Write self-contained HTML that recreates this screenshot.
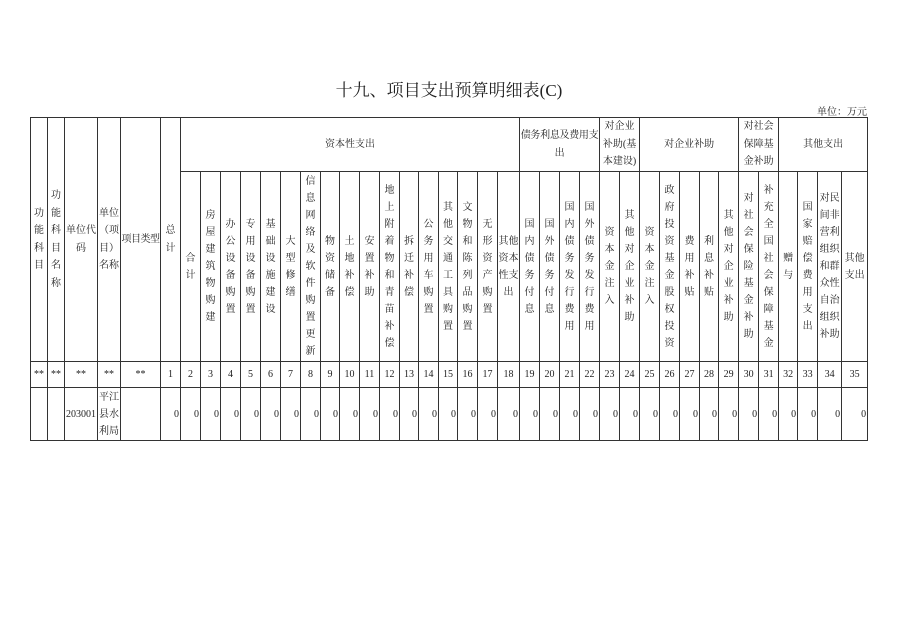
<!DOCTYPE html>
<html><head><meta charset="utf-8"><style>
body{margin:0;width:898px;height:634px;background:#fff;position:relative;font-family:"Liberation Serif","Noto Serif CJK SC",serif;color:#222;}
.title{position:absolute;top:76px;left:0;width:898px;text-align:center;font-size:17px;}
.unit{position:absolute;top:103px;right:31px;font-size:10px;}
table{position:absolute;left:30px;top:117px;border-collapse:collapse;table-layout:fixed;width:837px;font-size:10px;}
td{border:1px solid #333;padding:0;text-align:center;vertical-align:middle;line-height:17px;overflow:hidden;white-space:nowrap;}
tr.h1{height:54px}tr.h2{height:190px}tr.h3{height:26px}tr.h4{height:53px}
tr.h1 td{line-height:17.5px}
td.r{text-align:right;padding-right:1px}
</style></head><body>
<div class="title">十九、项目支出预算明细表(C)</div>
<div class="unit">单位：万元</div>
<table>
<colgroup>
<col style="width:17px"><col style="width:17px"><col style="width:33px"><col style="width:23px"><col style="width:40px"><col style="width:20px">
<col style="width:20px"><col style="width:20px"><col style="width:20px"><col style="width:20px"><col style="width:20px"><col style="width:20px"><col style="width:20px">
<col style="width:19px"><col style="width:20px"><col style="width:20px"><col style="width:20px"><col style="width:19px"><col style="width:20px"><col style="width:19px"><col style="width:20px"><col style="width:20px">
<col style="width:22px"><col style="width:20px"><col style="width:20px"><col style="width:20px"><col style="width:20px">
<col style="width:20px"><col style="width:20px"><col style="width:20px"><col style="width:20px"><col style="width:20px"><col style="width:19px"><col style="width:20px"><col style="width:20px"><col style="width:20px"><col style="width:19px"><col style="width:20px"><col style="width:24px"><col style="width:26px">
</colgroup>
<tr class="h1">
<td rowspan="2">功<br>能<br>科<br>目</td>
<td rowspan="2">功<br>能<br>科<br>目<br>名<br>称</td>
<td rowspan="2">单位代<br>码</td>
<td rowspan="2">单位<br>（项<br>目）<br>名称</td>
<td rowspan="2" style="letter-spacing:-0.5px">项目类型</td>
<td rowspan="2">总<br>计</td>
<td colspan="17">资本性支出</td>
<td colspan="4" style="letter-spacing:-0.3px">债务利息及费用支<br>出</td>
<td colspan="2">对企业<br>补助(基<br>本建设)</td>
<td colspan="5">对企业补助</td>
<td colspan="2">对社会<br>保障基<br>金补助</td>
<td colspan="4">其他支出</td>
</tr>
<tr class="h2">
<td>合<br>计</td>
<td>房<br>屋<br>建<br>筑<br>物<br>购<br>建</td>
<td>办<br>公<br>设<br>备<br>购<br>置</td>
<td>专<br>用<br>设<br>备<br>购<br>置</td>
<td>基<br>础<br>设<br>施<br>建<br>设</td>
<td>大<br>型<br>修<br>缮</td>
<td>信<br>息<br>网<br>络<br>及<br>软<br>件<br>购<br>置<br>更<br>新</td>
<td>物<br>资<br>储<br>备</td>
<td>土<br>地<br>补<br>偿</td>
<td>安<br>置<br>补<br>助</td>
<td>地<br>上<br>附<br>着<br>物<br>和<br>青<br>苗<br>补<br>偿</td>
<td>拆<br>迁<br>补<br>偿</td>
<td>公<br>务<br>用<br>车<br>购<br>置</td>
<td>其<br>他<br>交<br>通<br>工<br>具<br>购<br>置</td>
<td>文<br>物<br>和<br>陈<br>列<br>品<br>购<br>置</td>
<td>无<br>形<br>资<br>产<br>购<br>置</td>
<td>其他<br>资本<br>性支<br>出</td>
<td>国<br>内<br>债<br>务<br>付<br>息</td>
<td>国<br>外<br>债<br>务<br>付<br>息</td>
<td>国<br>内<br>债<br>务<br>发<br>行<br>费<br>用</td>
<td>国<br>外<br>债<br>务<br>发<br>行<br>费<br>用</td>
<td>资<br>本<br>金<br>注<br>入</td>
<td>其<br>他<br>对<br>企<br>业<br>补<br>助</td>
<td>资<br>本<br>金<br>注<br>入</td>
<td>政<br>府<br>投<br>资<br>基<br>金<br>股<br>权<br>投<br>资</td>
<td>费<br>用<br>补<br>贴</td>
<td>利<br>息<br>补<br>贴</td>
<td>其<br>他<br>对<br>企<br>业<br>补<br>助</td>
<td>对<br>社<br>会<br>保<br>险<br>基<br>金<br>补<br>助</td>
<td>补<br>充<br>全<br>国<br>社<br>会<br>保<br>障<br>基<br>金</td>
<td>赠<br>与</td>
<td>国<br>家<br>赔<br>偿<br>费<br>用<br>支<br>出</td>
<td>对民<br>间非<br>营利<br>组织<br>和群<br>众性<br>自治<br>组织<br>补助</td>
<td>其他<br>支出</td>
</tr>
<tr class="h3">
<td>**</td><td>**</td><td>**</td><td>**</td><td>**</td>
<td>1</td><td>2</td><td>3</td><td>4</td><td>5</td><td>6</td><td>7</td><td>8</td><td>9</td><td>10</td><td>11</td><td>12</td><td>13</td><td>14</td><td>15</td><td>16</td><td>17</td><td>18</td><td>19</td><td>20</td><td>21</td><td>22</td><td>23</td><td>24</td><td>25</td><td>26</td><td>27</td><td>28</td><td>29</td><td>30</td><td>31</td><td>32</td><td>33</td><td>34</td><td>35</td>
</tr>
<tr class="h4">
<td></td><td></td><td>203001</td><td>平江<br>县水<br>利局</td><td></td>
<td class="r">0</td><td class="r">0</td><td class="r">0</td><td class="r">0</td><td class="r">0</td><td class="r">0</td><td class="r">0</td><td class="r">0</td><td class="r">0</td><td class="r">0</td><td class="r">0</td><td class="r">0</td><td class="r">0</td><td class="r">0</td><td class="r">0</td><td class="r">0</td><td class="r">0</td><td class="r">0</td><td class="r">0</td><td class="r">0</td><td class="r">0</td><td class="r">0</td><td class="r">0</td><td class="r">0</td><td class="r">0</td><td class="r">0</td><td class="r">0</td><td class="r">0</td><td class="r">0</td><td class="r">0</td><td class="r">0</td><td class="r">0</td><td class="r">0</td><td class="r">0</td><td class="r">0</td>
</tr>
</table>
</body></html>
